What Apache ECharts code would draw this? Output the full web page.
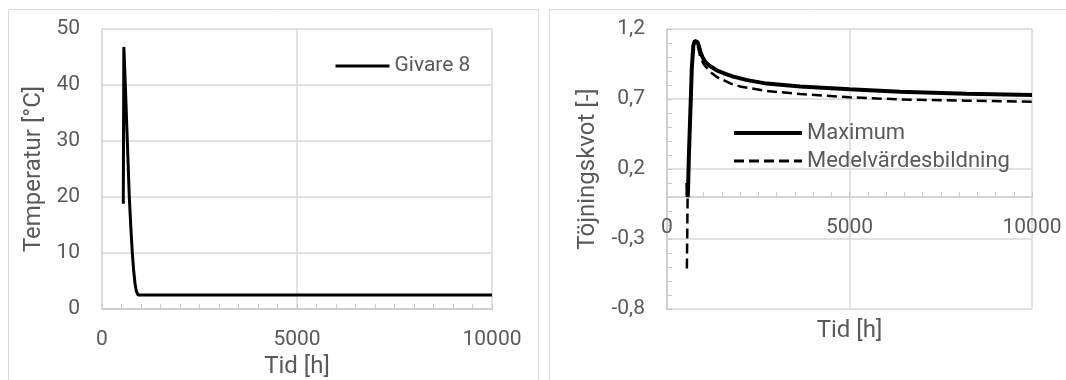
<!DOCTYPE html>
<html>
<head>
<meta charset="utf-8">
<script src="https://cdn.jsdelivr.net/npm/echarts@6/dist/echarts.min.js"></script>
<style>
  html, body { margin: 0; padding: 0; background: #ffffff; }
  #chart { width: 1066px; height: 380px; }
</style>
</head>
<body>
<div id="chart"></div>
<script>
// Sensor 8 temperature history
const tempHours  = [546, 560, 598, 649, 700, 740, 777, 810, 846, 880, 923, 1000, 2000, 5000, 10000];
const tempValues = [18.8, 46.8, 40, 30, 20, 14.5, 10, 7, 4.6, 3.2, 2.5, 2.5, 2.5, 2.5, 2.5];

// Strain ratio: maximum value
const maxHours  = [555, 565, 575, 600, 640, 680, 720, 760, 800, 840, 880, 920, 970, 1050, 1150, 1362, 1600, 1817, 2200, 2732, 3644, 5000, 6384, 8210, 10000];
const maxValues = [0.10, 0.0, 0.04, 0.3, 0.61, 0.92, 1.08, 1.115, 1.12, 1.105, 1.07, 1.035, 1.0, 0.965, 0.94, 0.905, 0.88, 0.86, 0.835, 0.81, 0.79, 0.77, 0.752, 0.738, 0.729];

// Strain ratio: averaged value
const meanHours  = [545, 565, 600, 640, 680, 720, 780, 850, 904, 1000, 1178, 1350, 1534, 1750, 2000, 2732, 3644, 5000, 6384, 8210, 10000];
const meanValues = [-0.51, 0.0, 0.3, 0.6, 0.9, 1.04, 1.08, 1.07, 1.01, 0.95, 0.895, 0.86, 0.836, 0.81, 0.79, 0.757, 0.736, 0.712, 0.697, 0.688, 0.68];

// Axis ticks
const timeTicks = [0, 5000, 10000];
const tempTicks = [0, 10, 20, 30, 40, 50];
const ratioTicks = [-0.8, -0.3, 0.2, 0.7, 1.2];

const zip = (xs, ys) => xs.map((x, i) => [x, ys[i]]);

const FONT = 'Roboto';
const TEXT = '#595959';
const GRID_LINE = '#d9d9d9';
const AXIS_LINE = '#c8c8c8';

const TEMP_WIDTH = 3, MAX_WIDTH = 4, MEAN_WIDTH = 3;
const MEAN_DASH = [10, 5];

// plot boxes
const PLOT_TOP = 29, PLOT_H = 280;
// the strain chart's time axis sits on the zero line
const ratioZeroOffset = -PLOT_H * (0 - ratioTicks[0]) / (ratioTicks[ratioTicks.length - 1] - ratioTicks[0]);

const chart = echarts.init(document.getElementById('chart'), null, { renderer: 'canvas' });

const timeAxis = (gridIndex, nameGap, offset) => ({
  type: 'value',
  gridIndex,
  position: 'bottom',
  offset,
  min: timeTicks[0],
  max: timeTicks[timeTicks.length - 1],
  interval: timeTicks[1] - timeTicks[0],
  name: 'Tid [h]',
  nameLocation: 'middle',
  nameGap,
  nameTextStyle: { fontFamily: FONT, fontSize: 24, color: TEXT },
  axisLine: { show: true, onZero: false, lineStyle: { color: AXIS_LINE, width: 1.5 } },
  axisTick: { show: true, inside: true, length: 5, lineStyle: { color: AXIS_LINE } },
  minorTick: { show: true, splitNumber: 10, length: 5, lineStyle: { color: AXIS_LINE } },
  axisLabel: { fontFamily: FONT, fontSize: 21, color: TEXT, margin: 20, formatter: v => String(v) },
  splitLine: { show: true, lineStyle: { color: GRID_LINE, width: 1.5 } }
});

chart.setOption({
  animation: false,
  backgroundColor: '#ffffff',
  graphic: [
    { type: 'rect', shape: { x: 8.5, y: 9.5, width: 530, height: 400 },
      style: { fill: 'none', stroke: GRID_LINE, lineWidth: 1 }, silent: true, z: -1 },
    { type: 'rect', shape: { x: 549.5, y: 9.5, width: 600, height: 400 },
      style: { fill: 'none', stroke: GRID_LINE, lineWidth: 1 }, silent: true, z: -1 }
  ],
  grid: [
    { left: 102, top: PLOT_TOP, width: 390, height: PLOT_H, outerBoundsMode: 'none' },
    { left: 667, top: PLOT_TOP, width: 365, height: PLOT_H, outerBoundsMode: 'none' }
  ],
  legend: [
    {
      left: 329, top: 50,
      itemWidth: 54, itemHeight: 20,
      data: [{ name: 'Givare 8', lineStyle: { width: TEMP_WIDTH } }],
      itemStyle: { opacity: 0 },
      textStyle: { fontFamily: FONT, fontSize: 21, color: TEXT, lineHeight: 22 }
    },
    {
      left: 727, top: 117, orient: 'vertical',
      itemWidth: 68, itemHeight: 20, itemGap: 6,
      data: [
        { name: 'Maximum', lineStyle: { width: MAX_WIDTH } },
        { name: 'Medelvärdesbildning', lineStyle: { width: MEAN_WIDTH, type: MEAN_DASH } }
      ],
      itemStyle: { opacity: 0 },
      textStyle: { fontFamily: FONT, fontSize: 22, color: TEXT, lineHeight: 22 }
    }
  ],
  xAxis: [
    timeAxis(0, 46, 0),
    timeAxis(1, 122, ratioZeroOffset)
  ],
  yAxis: [
    {
      type: 'value', gridIndex: 0,
      min: tempTicks[0], max: tempTicks[tempTicks.length - 1],
      interval: tempTicks[1] - tempTicks[0],
      name: 'Temperatur [°C]', nameLocation: 'middle', nameGap: 56,
      nameTextStyle: { fontFamily: FONT, fontSize: 24, color: TEXT },
      axisLine: { show: true, lineStyle: { color: GRID_LINE, width: 1.5 } },
      axisTick: { show: false },
      axisLabel: { fontFamily: FONT, fontSize: 21, color: TEXT, margin: 22 },
      splitLine: { show: true, lineStyle: { color: GRID_LINE, width: 1.5 } }
    },
    {
      type: 'value', gridIndex: 1,
      min: ratioTicks[0], max: ratioTicks[ratioTicks.length - 1],
      interval: ratioTicks[1] - ratioTicks[0],
      name: 'Töjningskvot [-]', nameLocation: 'middle', nameGap: 67,
      nameTextStyle: { fontFamily: FONT, fontSize: 24, color: TEXT },
      axisLine: { show: true, onZero: false, lineStyle: { color: AXIS_LINE, width: 1.5 } },
      axisTick: { show: true, inside: true, length: 5, lineStyle: { color: AXIS_LINE } },
      minorTick: { show: true, splitNumber: 5, length: 5, lineStyle: { color: AXIS_LINE } },
      axisLabel: {
        fontFamily: FONT, fontSize: 21, color: TEXT, margin: 22,
        formatter: v => v.toFixed(1).replace('.', ',')
      },
      splitLine: { show: true, lineStyle: { color: GRID_LINE, width: 1.5 } }
    }
  ],
  series: [
    {
      name: 'Givare 8', type: 'line', xAxisIndex: 0, yAxisIndex: 0,
      data: zip(tempHours, tempValues),
      showSymbol: false, symbol: 'none',
      lineStyle: { color: '#000000', width: TEMP_WIDTH },
      itemStyle: { color: '#000000' }
    },
    {
      name: 'Medelvärdesbildning', type: 'line', xAxisIndex: 1, yAxisIndex: 1,
      data: zip(meanHours, meanValues),
      showSymbol: false, symbol: 'none',
      lineStyle: { color: '#000000', width: MEAN_WIDTH - 0.5, type: MEAN_DASH },
      itemStyle: { color: '#000000' }
    },
    {
      name: 'Maximum', type: 'line', xAxisIndex: 1, yAxisIndex: 1,
      data: zip(maxHours, maxValues),
      showSymbol: false, symbol: 'none',
      lineStyle: { color: '#000000', width: MAX_WIDTH },
      itemStyle: { color: '#000000' }
    }
  ]
});
</script>
</body>
</html>
